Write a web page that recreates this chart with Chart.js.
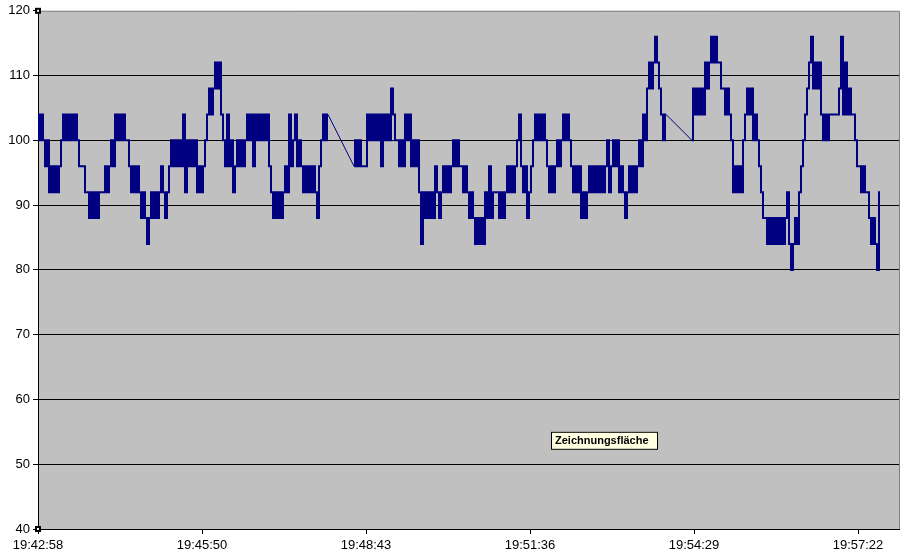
<!DOCTYPE html>
<html>
<head>
<meta charset="utf-8">
<script src="https://cdn.jsdelivr.net/npm/chart.js@4.4.1/dist/chart.umd.min.js"></script>
<style>
html, body { margin: 0; padding: 0; background: #fff; }
canvas { display: block; }
</style>
</head>
<body>
<canvas id="myChart" width="913" height="559"></canvas>
<script>
const sampleStep = 2.1073
const segStarts = [0, 332.96, 689.09]

const segA = [
  104, 100, 104, 100, 96, 100, 92, 96, 92, 96, 92, 96, 100, 104, 100, 104, 100, 104, 100, 104,
  100, 96, 96, 96, 92, 92, 88, 92, 88, 92, 88, 92, 92, 92, 96, 92, 96, 100, 96, 104,
  100, 104, 100, 104, 100, 100, 96, 92, 96, 92, 96, 92, 88, 92, 88, 84, 88, 92, 88, 92,
  88, 92, 96, 92, 88, 92, 96, 100, 96, 100, 96, 100, 96, 104, 92, 100, 96, 100, 96, 100,
  92, 96, 92, 96, 100, 104, 108, 104, 108, 112, 108, 112, 104, 100, 96, 104, 96, 100, 92, 96,
  100, 96, 100, 96, 100, 104, 100, 104, 96, 104, 100, 104, 100, 104, 100, 104, 96, 92, 88, 92,
  88, 92, 88, 92, 96, 92, 104, 96, 100, 104, 96, 100, 96, 92, 96, 92, 96, 92, 96, 92,
  88, 96, 100, 104, 100, 104
]

const segB = [
  96, 100, 96, 100, 96, 96, 96, 104, 100, 104, 100, 104, 100, 104, 96, 104, 100, 104, 100, 108,
  104, 100, 100, 96, 100, 96, 104, 100, 104, 96, 100, 96, 100, 92, 84, 92, 88, 92, 88, 92,
  88, 96, 92, 88, 92, 96, 92, 96, 92, 96, 100, 96, 100, 96, 96, 92, 96, 92, 88, 92,
  88, 84, 88, 84, 88, 84, 92, 88, 96, 88, 92, 92, 92, 88, 92, 88, 92, 96, 92, 96,
  92, 96, 100, 104, 96, 92, 96, 88, 92, 96, 100, 104, 100, 104, 100, 104, 100, 96, 92, 96,
  92, 96, 100, 96, 100, 104, 100, 104, 100, 96, 92, 96, 92, 96, 88, 92, 88, 92, 96, 92,
  96, 92, 96, 92, 96, 92, 96, 100, 92, 96, 100, 96, 100, 92, 96, 92, 88, 92, 96, 92,
  96, 92, 96, 100, 96, 104, 100, 108, 112, 108, 112, 116, 112, 108, 104, 100, 104
]

const segC = [
  100, 108, 104, 108, 104, 108, 104, 112, 108, 112, 116, 112, 116, 112, 112, 108, 108, 104, 108, 104,
  100, 92, 96, 92, 96, 92, 100, 104, 108, 104, 108, 100, 104, 100, 96, 92, 88, 88, 84, 88,
  84, 88, 84, 88, 84, 88, 84, 88, 92, 84, 80, 84, 88, 84, 92, 96, 100, 104, 108, 112,
  116, 108, 112, 108, 112, 104, 100, 104, 100, 104, 104, 104, 104, 104, 108, 116, 104, 112, 104, 108,
  104, 104, 100, 96, 96, 92, 96, 92, 92, 88, 84, 88, 84, 80, 92
]

const yMin = 40
const yMax = 120
const yStep = 10
const xMax = 907.2
const tickSeconds = [0, 172.8, 345.6, 518.4, 691.2, 864]
const tickLabels = ['19:42:58', '19:45:50', '19:48:43', '19:51:36', '19:54:29', '19:57:22']

let segmente = [segA, segB, segC].map(function (seg, s) {
  return seg.map(function (v, i) {
    return { x: segStarts[s] + i * sampleStep, y: v }
  })
})

// Hauptlinie: Segmente mit Unterbrechung an den Messlücken
let punkte = []
// Verbindungslinien über die Messlücken (letzter Punkt -> erster Punkt)
let luecken = []
segmente.forEach(function (seg, s) {
  if (s > 0) {
    const vorher = segmente[s - 1][segmente[s - 1].length - 1]
    punkte.push({ x: (vorher.x + seg[0].x) / 2, y: null })
    luecken.push(vorher, seg[0], { x: seg[0].x + 1, y: null })
  }
  punkte = punkte.concat(seg)
})

const plotBg = {
  id: 'plotBg',
  beforeDraw(chart) {
    const a = chart.chartArea
    const c = chart.ctx
    c.save()
    c.fillStyle = '#c0c0c0'
    c.fillRect(a.left, a.top, a.right - a.left, a.bottom - a.top)
    c.restore()
  },
  afterDraw(chart) {
    const a = chart.chartArea
    const c = chart.ctx
    c.save()
    // Rahmen oben und rechts
    c.strokeStyle = '#808080'
    c.lineWidth = 1
    c.beginPath()
    c.moveTo(a.left, a.top + 0.5)
    c.lineTo(a.right + 0.5, a.top + 0.5)
    c.lineTo(a.right + 0.5, a.bottom)
    c.stroke()
    // Markierungspunkte der Achse
    ;[[a.left, a.top], [a.left, a.bottom]].forEach(function (p) {
      c.fillStyle = '#000'
      c.fillRect(p[0] - 3, p[1] - 3, 6, 6)
      c.fillStyle = '#fff'
      c.fillRect(p[0] - 1, p[1] - 1, 2, 2)
    })
    // Tooltip "Zeichnungsfläche"
    const bx = a.left + 513
    const by = a.top + 421
    c.fillStyle = '#ffffe1'
    c.fillRect(bx, by, 107, 18)
    c.strokeStyle = '#000'
    c.strokeRect(bx + 0.5, by + 0.5, 106, 17)
    c.fillStyle = '#000'
    c.font = 'bold 11px "Liberation Sans", Arial, sans-serif'
    c.textBaseline = 'middle'
    c.fillText('Zeichnungsfläche', bx + 4, by + 9.5)
    c.restore()
  }
}

const ctx = document.getElementById('myChart').getContext('2d')
const chart = new Chart(ctx, {
  type: 'scatter',
  data: {
    datasets: [{
      label: 'Messwert',
      data: punkte,
      showLine: true,
      spanGaps: false,
      stepped: 'middle',
      borderColor: '#000080',
      borderWidth: 2,
      pointRadius: 0
    }, {
      label: 'Lücke',
      data: luecken,
      showLine: true,
      spanGaps: false,
      borderColor: '#000080',
      borderWidth: 1,
      pointRadius: 0
    }]
  },
  options: {
    responsive: false,
    animation: false,
    devicePixelRatio: 1,
    layout: { padding: { top: 10, right: 14, left: 0, bottom: 0 } },
    plugins: { legend: { display: false }, tooltip: { enabled: false } },
    scales: {
      x: {
        type: 'linear',
        min: 0,
        max: xMax,
        afterBuildTicks: function (scale) {
          scale.ticks = tickSeconds.map(function (v) { return { value: v } })
        },
        afterFit: function (scale) { scale.height = 30 },
        ticks: {
          autoSkip: false,
          maxRotation: 0,
          color: '#000',
          padding: 4,
          font: { family: '"Liberation Sans", Arial, sans-serif', size: 13 },
          callback: function (value, index) { return tickLabels[index] }
        },
        grid: { drawOnChartArea: false, drawTicks: true, tickLength: 5, color: '#000' },
        border: { color: '#000', width: 1 }
      },
      y: {
        min: yMin,
        max: yMax,
        afterFit: function (scale) { scale.width = 38 },
        ticks: {
          stepSize: yStep,
          color: '#000',
          padding: 3,
          font: { family: '"Liberation Sans", Arial, sans-serif', size: 13 }
        },
        grid: {
          color: function (c) { return c.tick && c.tick.value === yMax ? 'rgba(0,0,0,0)' : '#000' },
          tickColor: '#000',
          tickLength: 5
        },
        border: { color: '#000', width: 1 }
      }
    }
  },
  plugins: [plotBg]
})
</script>
</body>
</html>
